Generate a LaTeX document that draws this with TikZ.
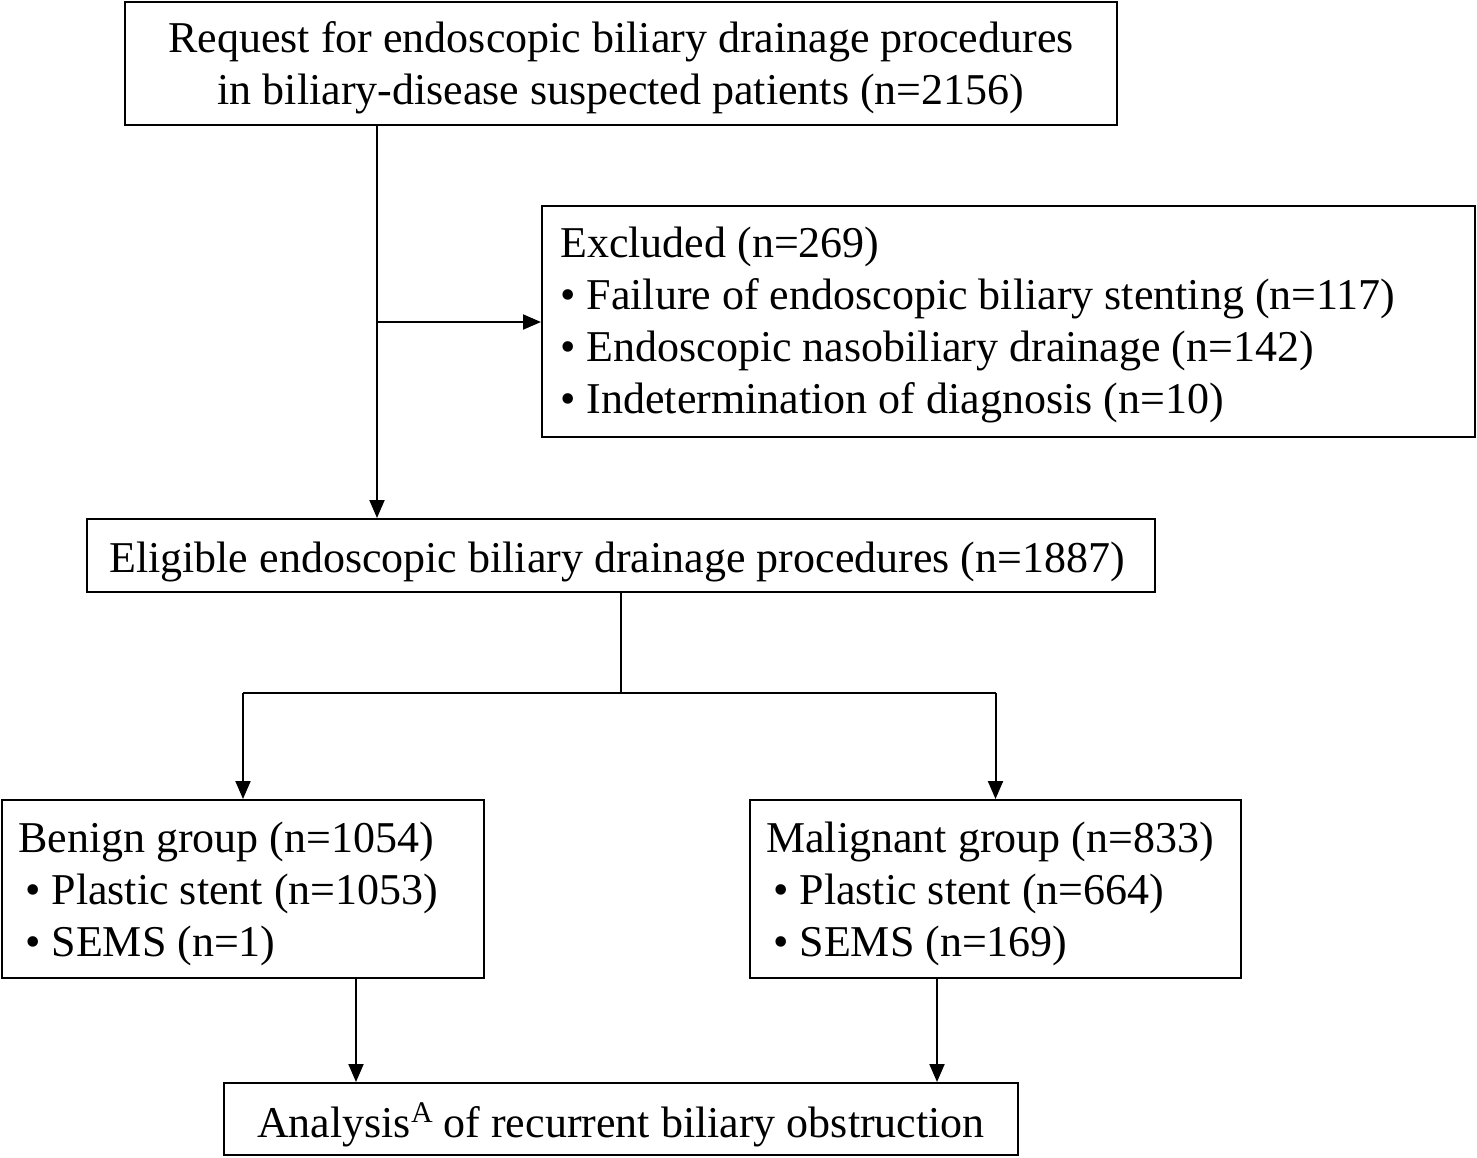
\documentclass[tikz,border=0pt]{standalone}
\usepackage{fontspec}
\setmainfont{Liberation Serif}
\usetikzlibrary{arrows.meta,calc}
\begin{document}
\begin{tikzpicture}[x=1pt,y=-1pt,
  box/.style={draw,line width=2pt,inner sep=0pt},
  txt/.style={inner sep=0pt,font=\fontsize{44}{52}\selectfont},
  ltxt/.style={txt,align=left,anchor=west},
  ctxt/.style={txt,align=center,anchor=center},
  conn/.style={line width=2pt},
  arr/.style={conn,-{Triangle[length=18pt,width=15pt]}}]
\useasboundingbox (0,0) rectangle (1477,1157);
% boxes
\node[box,minimum width=992pt,minimum height=123pt] (top) at (621,63.5) {};
\node[box,minimum width=933pt,minimum height=231pt] (excl) at (1008.5,321.5) {};
\node[box,minimum width=1068pt,minimum height=73pt] (elig) at (621,555.5) {};
\node[box,minimum width=482pt,minimum height=178pt] (ben) at (243,889) {};
\node[box,minimum width=491pt,minimum height=178pt] (mal) at (995.5,889) {};
\node[box,minimum width=794pt,minimum height=72pt] (ana) at (621,1119) {};
% texts
\node[ctxt] (topt) at ($(top.center)+(0,4)$)
  {Request for endoscopic biliary drainage procedures\\in biliary-disease suspected patients (n=2156)};
\node[ltxt] (exclt) at ($(excl.west)+(19,3.5)$)
  {Excluded (n=269)\\• Failure of endoscopic biliary stenting (n=117)\\• Endoscopic nasobiliary drainage (n=142)\\• Indetermination of diagnosis (n=10)};
\node[ctxt] (eligt) at ($(elig.center)+(-4,6)$)
  {Eligible endoscopic biliary drainage procedures (n=1887)};
\node[ltxt] (bent) at ($(ben.west)+(17,5)$)
  {Benign group (n=1054)\\\hspace*{7pt}• Plastic stent (n=1053)\\\hspace*{7pt}• SEMS (n=1)};
\node[ltxt] (malt) at ($(mal.west)+(17,5)$)
  {Malignant group (n=833)\\\hspace*{7pt}• Plastic stent (n=664)\\\hspace*{7pt}• SEMS (n=169)};
\node[ctxt] (anat) at ($(ana.center)+(0,6)$)
  {Analysis\raisebox{0.33em}{\fontsize{30}{30}\selectfont A} of recurrent biliary obstruction};
% connectors
\coordinate (j1) at (377,322);
\coordinate (s) at (621,693);
\coordinate (b1) at (356,1030);
\coordinate (b2) at (937,1030);
\draw[arr] (top.south -| j1) -- (elig.north -| j1);
\draw[arr] (j1) -- (excl.west |- j1);
\draw[conn] (elig.south) -- (s);
\draw[conn] (ben.north |- s) -- (mal.north |- s);
\draw[arr] (ben.north |- s) -- (ben.north);
\draw[arr] (mal.north |- s) -- (mal.north);
\draw[arr] (ben.south -| b1) -- (ana.north -| b1);
\draw[arr] (mal.south -| b2) -- (ana.north -| b2);
\end{tikzpicture}
\end{document}
